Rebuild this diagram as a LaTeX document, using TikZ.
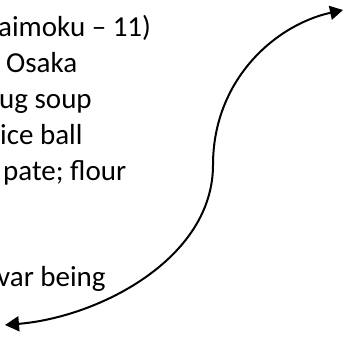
\documentclass[tikz,border=0pt]{standalone}
\usepackage{fontspec}
\setmainfont{Carlito}
\usetikzlibrary{arrows.meta}
\begin{document}
\begin{tikzpicture}[x=1pt,y=-1pt,
  txt/.style={anchor=base west,inner sep=0pt,font=\fontsize{29}{36}\selectfont},
  conn/.style={line width=2pt,{Triangle[length=14pt,width=15pt]}-{Triangle[length=13pt,width=14pt]}}]
\useasboundingbox (0,0) rectangle (344,339);
\node[txt] (l1) at (-2,36.7) {aimoku – 11)};
\node[txt] (l2) at (6,72.3) {Osaka};
\node[txt] (l3) at (-1,108) {ug soup};
\node[txt] (l4) at (0,144) {ice ball};
\node[txt] (l5) at (3,180) {pate; flour};
\node[txt] (l6) at (-3,286) {var being};
\coordinate (a) at (5,325);
\coordinate (m) at (213,165);
\coordinate (b) at (343,10);
\draw[conn] (a) .. controls (100,317) and (213,258) .. (m)
  .. controls (213,80) and (275,25) .. (b);
\end{tikzpicture}
\end{document}
